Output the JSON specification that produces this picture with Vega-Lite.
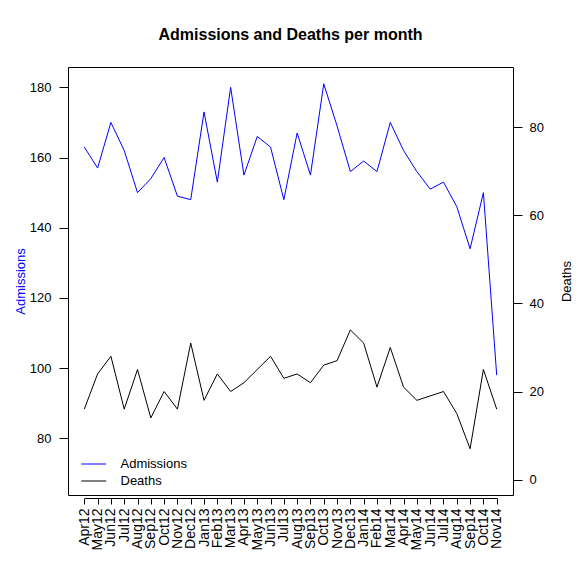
{
  "$schema": "https://vega.github.io/schema/vega-lite/v6.json",
  "width": 445,
  "height": 428,
  "autosize": {"type": "none"},
  "padding": {"left": 68, "top": 67, "right": 68, "bottom": 86},
  "background": "white",
  "title": {"text": "Admissions and Deaths per month", "fontSize": 16, "font": "Liberation Sans", "fontWeight": "bold", "anchor": "middle", "color": "black", "offset": 11, "baseline": "alphabetic"},
  "config": {"font": "Liberation Sans", "view": {"stroke": "black", "strokeWidth": 1}},
  "data": {"values": [
    {"month": "Apr12", "adm": 163, "deaths": 16},
    {"month": "May12", "adm": 157, "deaths": 24},
    {"month": "Jun12", "adm": 170, "deaths": 28},
    {"month": "Jul12", "adm": 162, "deaths": 16},
    {"month": "Aug12", "adm": 150, "deaths": 25},
    {"month": "Sep12", "adm": 154, "deaths": 14},
    {"month": "Oct12", "adm": 160, "deaths": 20},
    {"month": "Nov12", "adm": 149, "deaths": 16},
    {"month": "Dec12", "adm": 148, "deaths": 31},
    {"month": "Jan13", "adm": 173, "deaths": 18},
    {"month": "Feb13", "adm": 153, "deaths": 24},
    {"month": "Mar13", "adm": 180, "deaths": 20},
    {"month": "Apr13", "adm": 155, "deaths": 22},
    {"month": "May13", "adm": 166, "deaths": 25},
    {"month": "Jun13", "adm": 163, "deaths": 28},
    {"month": "Jul13", "adm": 148, "deaths": 23},
    {"month": "Aug13", "adm": 167, "deaths": 24},
    {"month": "Sep13", "adm": 155, "deaths": 22},
    {"month": "Oct13", "adm": 181, "deaths": 26},
    {"month": "Nov13", "adm": 169, "deaths": 27},
    {"month": "Dec13", "adm": 156, "deaths": 34},
    {"month": "Jan14", "adm": 159, "deaths": 31},
    {"month": "Feb14", "adm": 156, "deaths": 21},
    {"month": "Mar14", "adm": 170, "deaths": 30},
    {"month": "Apr14", "adm": 162, "deaths": 21},
    {"month": "May14", "adm": 156, "deaths": 18},
    {"month": "Jun14", "adm": 151, "deaths": 19},
    {"month": "Jul14", "adm": 153, "deaths": 20},
    {"month": "Aug14", "adm": 146, "deaths": 15},
    {"month": "Sep14", "adm": 134, "deaths": 7},
    {"month": "Oct14", "adm": 150, "deaths": 25},
    {"month": "Nov14", "adm": 98, "deaths": 16}
  ]},
  "encoding": {
    "x": {
      "field": "month", "type": "ordinal", "sort": null,
      "scale": {"type": "point", "range": [16.3, 428.7], "padding": 0},
      "axis": {"title": null, "offset": 3, "domain": true, "domainColor": "black", "tickColor": "black", "tickSize": 6, "labelAngle": -90, "labelPadding": 4, "labelFontSize": 14, "labelColor": "black", "grid": false}
    }
  },
  "layer": [
    {
      "mark": {"type": "line", "strokeWidth": 1},
      "encoding": {
        "y": {
          "field": "adm", "type": "quantitative",
          "scale": {"domain": [63.85, 185.8], "zero": false, "nice": false},
          "axis": {"orient": "left", "values": [80, 100, 120, 140, 160, 180], "grid": false, "domain": false, "tickColor": "black", "tickSize": 9, "labelPadding": 8, "labelFontSize": 13, "labelColor": "black", "title": "Admissions", "titleColor": "#0000FF", "titleFontSize": 13, "titleFontWeight": "normal", "titleAngle": -90, "titleX": -44, "titleY": 214, "titleAlign": "center", "titleBaseline": "alphabetic"}
        },
        "color": {
          "datum": "Admissions", "type": "nominal",
          "scale": {"domain": ["Admissions", "Deaths"], "range": ["#0000FF", "#000000"]},
          "legend": {"orient": "none", "legendX": 18.75, "legendY": 390, "title": null, "symbolType": "M-2,0H2", "symbolSize": 156, "symbolStrokeWidth": 1, "labelFontSize": 13, "labelColor": "black", "labelOffset": 19.75, "padding": 0, "rowPadding": 3}
        }
      }
    },
    {
      "mark": {"type": "line", "strokeWidth": 1},
      "encoding": {
        "y": {
          "field": "deaths", "type": "quantitative",
          "scale": {"domain": [-3.5, 93.7], "zero": false, "nice": false},
          "axis": {"orient": "right", "values": [0, 20, 40, 60, 80], "grid": false, "domain": false, "tickColor": "black", "tickSize": 9, "labelPadding": 7, "labelFontSize": 13, "labelColor": "black", "title": "Deaths", "titleColor": "black", "titleFontSize": 13, "titleFontWeight": "normal", "titleAngle": -90, "titleX": 57, "titleY": 214, "titleAlign": "center", "titleBaseline": "alphabetic"}
        },
        "color": {"datum": "Deaths", "type": "nominal"}
      }
    }
  ],
  "resolve": {"scale": {"y": "independent"}}
}
